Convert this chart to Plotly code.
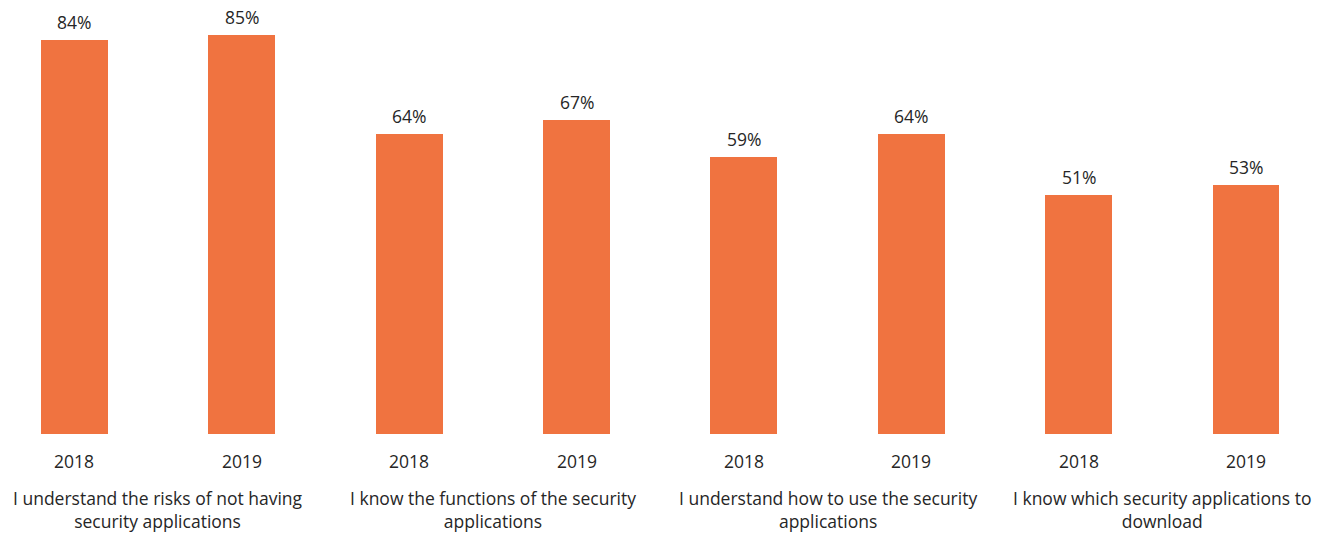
import plotly.graph_objects as go

categories = [
    "I understand the risks of not having<br>security applications",
    "I know the functions of the security<br>applications",
    "I understand how to use the security<br>applications",
    "I know which security applications to<br>download",
]
years = ["2018", "2019"]
values = [84, 85, 64, 67, 59, 64, 51, 53]

bar_x = list(range(len(values)))
bar_years = [years[i % 2] for i in range(len(values))]
labels = [f"{v}%" for v in values]

FONT = "Open Sans"
TXT = "#262626"
ORANGE = "#F07340"
FS = 17.5

fig = go.Figure()
fig.add_trace(go.Bar(
    x=bar_x, y=values, width=0.40,
    marker=dict(color=ORANGE, line=dict(width=0)),
    hoverinfo="x+y",
))

annotations = []
for i, v in enumerate(values):
    annotations.append(dict(
        x=bar_x[i], y=v, xref="x", yref="y", text=labels[i], showarrow=False,
        yanchor="bottom", yshift=4, font=dict(family=FONT, size=FS, color=TXT),
    ))
for i, yr in enumerate(bar_years):
    annotations.append(dict(
        x=bar_x[i], y=0, xref="x", yref="y", text=yr, showarrow=False,
        yanchor="top", yshift=-13, font=dict(family=FONT, size=FS, color=TXT),
    ))
for j, cat in enumerate(categories):
    annotations.append(dict(
        x=2 * j + 0.5, y=0, xref="x", yref="y", text=cat, showarrow=False,
        yanchor="top", yshift=-50, font=dict(family=FONT, size=FS, color=TXT),
        align="center",
    ))

fig.update_layout(
    width=1324, height=527,
    margin=dict(l=0, r=0, t=10, b=101),
    plot_bgcolor="white", paper_bgcolor="white",
    showlegend=False,
    bargap=0,
    xaxis=dict(range=[-0.397, 7.514], showticklabels=False, showgrid=False,
               zeroline=False, showline=False, ticks=""),
    yaxis=dict(range=[0, 88.7], visible=False),
    annotations=annotations,
)

fig.write_html("out.html")
